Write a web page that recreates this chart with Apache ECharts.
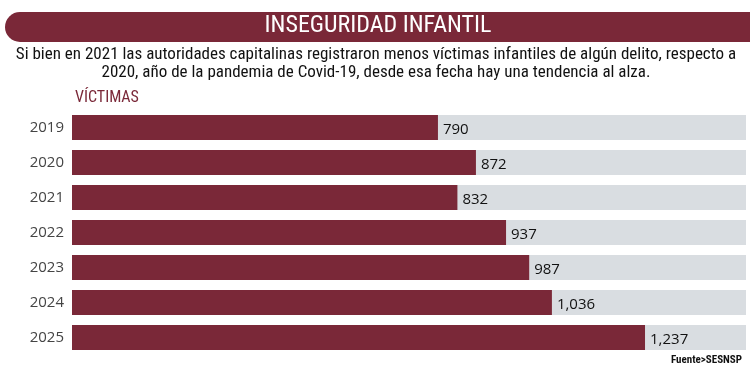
<!DOCTYPE html>
<html><head><meta charset="utf-8">
<script src="https://cdn.jsdelivr.net/npm/echarts@6/dist/echarts.min.js"></script>
<style>html,body{margin:0;padding:0;background:#fff}#c{width:750px;height:376px}</style>
</head><body><div id="c"></div>
<script>
const years = ['2019','2020','2021','2022','2023','2024','2025'];
const victims = [790, 872, 832, 937, 987, 1036, 1237];
const axisMax = 1455;
const F = '"Liberation Sans Narrow","Roboto Condensed","Open Sans",sans-serif';
const chart = echarts.init(document.getElementById('c'));
chart.setOption({
  animation:false,
  backgroundColor:'#fff',
  graphic:[
    {type:'rect',shape:{x:5,y:12,width:760,height:30,r:[15,0,0,15]},style:{fill:'#7a2838'}},
    {type:'text',x:378,y:14,style:{text:'INSEGURIDAD INFANTIL',fill:'#fff',font:'24px '+F,textAlign:'center'}},
    {type:'text',x:376,y:46,style:{text:'Si bien en 2021 las autoridades capitalinas registraron menos víctimas infantiles de algún delito, respecto a\n2020, año de la pandemia de Covid-19, desde esa fecha hay una tendencia al alza.',fill:'#111',font:'17px '+F,textAlign:'center',lineHeight:18}},
    {type:'text',left:75,top:90,style:{text:'VÍCTIMAS',fill:'#7a2838',font:'16px '+F}},
    {type:'text',right:8,top:355,style:{text:'Fuente>SESNSP',fill:'#111',font:'bold 11px '+F}}
  ],
  grid:{left:72,right:4,top:110,bottom:21,containLabel:false},
  xAxis:{type:'value',min:0,max:axisMax,show:false},
  yAxis:{type:'category',data:years,inverse:true,axisLine:{show:false},axisTick:{show:false},
    axisLabel:{color:'#444',fontSize:15,fontFamily:'"Open Sans",sans-serif',margin:8}},
  series:[{type:'bar',data:victims,barWidth:25,
    itemStyle:{color:'#7a2838'},
    showBackground:true,backgroundStyle:{color:'#d9dde1'},
    label:{show:true,position:'right',distance:5,offset:[0,2],color:'#111',fontSize:15,fontFamily:'"Open Sans",sans-serif',
      formatter:p=>p.value.toLocaleString('en-US')}}]
});
</script></body></html>
